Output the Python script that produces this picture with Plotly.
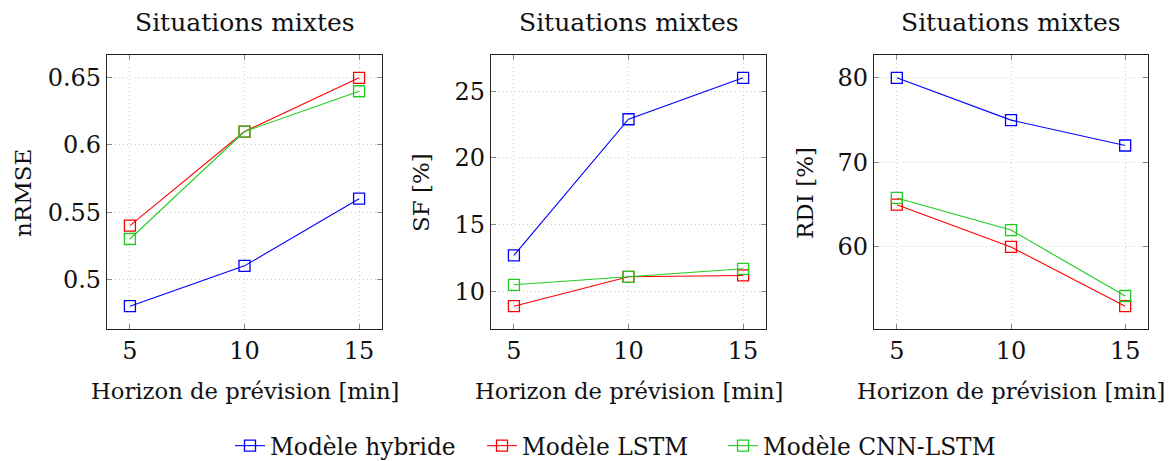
import plotly.graph_objects as go

horizons = [5, 10, 15]
series_names = ["Modèle hybride", "Modèle LSTM", "Modèle CNN-LSTM"]
colors = ["#0000ff", "#ff0000", "#22cc22"]

nrmse_hybride = [0.48, 0.51, 0.56]
nrmse_lstm = [0.54, 0.61, 0.65]
nrmse_cnn = [0.53, 0.61, 0.64]

sf_hybride = [12.7, 22.9, 26.0]
sf_lstm = [8.9, 11.1, 11.2]
sf_cnn = [10.5, 11.1, 11.7]

rdi_hybride = [80, 75, 72]
rdi_lstm = [65, 60, 53]
rdi_cnn = [65.8, 62, 54.2]

panel_titles = ["Situations mixtes", "Situations mixtes", "Situations mixtes"]
y_titles = ["nRMSE", "SF [%]", "RDI [%]"]
x_title = "Horizon de prévision [min]"

y_ticks = [[0.5, 0.55, 0.6, 0.65], [10, 15, 20, 25], [60, 70, 80]]
y_ticktext = [["0.5", "0.55", "0.6", "0.65"], ["10", "15", "20", "25"], ["60", "70", "80"]]

panels = [
    [nrmse_hybride, nrmse_lstm, nrmse_cnn],
    [sf_hybride, sf_lstm, sf_cnn],
    [rdi_hybride, rdi_lstm, rdi_cnn],
]

W, H = 1171, 461
FONT = "DejaVu Serif"
TXT = "#111111"


def px(x):
    return x / W


def py(y):
    return 1 - y / H


x_domains = [(107, 382), (491, 766), (874, 1148)]
y_top, y_bot = 55, 329
ytitle_x = [23, 421, 805]
legend_ids = ["legend", "legend2", "legend3"]
legend_x = [230, 482, 723]

fig = go.Figure()

for p, data in enumerate(panels):
    xa = "x" if p == 0 else f"x{p+1}"
    ya = "y" if p == 0 else f"y{p+1}"
    for s, vals in enumerate(data):
        fig.add_trace(go.Scatter(
            x=horizons, y=vals, mode="lines+markers",
            name=series_names[s], showlegend=(p == 0), legend=legend_ids[s],
            line=dict(color=colors[s], width=1.1),
            marker=dict(symbol="square-open", size=11, color=colors[s], line=dict(width=1.3)),
            xaxis=xa, yaxis=ya,
        ))
    lo = min(min(v) for v in data)
    hi = max(max(v) for v in data)
    pad = 0.1 * (hi - lo)
    axis_common = dict(
        showline=True, linecolor="#222222", linewidth=1.2, mirror="ticks",
        ticks="inside", ticklen=5, tickcolor="#888888", tickwidth=1,
        showgrid=True, gridcolor="#cfcfcf", griddash="1px,3px", gridwidth=1,
        zeroline=False, tickfont=dict(family=FONT, size=24, color=TXT),
    )
    x0, x1 = x_domains[p]
    fig.layout[f"xaxis{'' if p == 0 else p+1}"] = dict(
        domain=[px(x0), px(x1)], anchor=ya, range=[4, 16],
        tickvals=horizons, ticktext=[str(h) for h in horizons], **axis_common,
    )
    fig.layout[f"yaxis{'' if p == 0 else p+1}"] = dict(
        domain=[py(y_bot), py(y_top)], anchor=xa, range=[lo - pad, hi + pad],
        tickvals=y_ticks[p], ticktext=y_ticktext[p], **axis_common,
    )
    cx = px((x0 + x1) / 2)
    fig.add_annotation(text=panel_titles[p], x=cx, y=py(22), xref="paper", yref="paper",
                       xanchor="center", yanchor="middle",
                       showarrow=False, font=dict(family=FONT, size=25, color=TXT))
    fig.add_annotation(text=x_title, x=cx, y=py(391), xref="paper", yref="paper",
                       xanchor="center", yanchor="middle",
                       showarrow=False, font=dict(family=FONT, size=22.7, color=TXT))
    fig.add_annotation(text=y_titles[p], x=px(ytitle_x[p]), y=py(193), xref="paper", yref="paper",
                       xanchor="center", yanchor="middle",
                       showarrow=False, textangle=-90, font=dict(family=FONT, size=23, color=TXT))

fig.update_layout(
    width=W, height=H, margin=dict(l=0, r=0, t=0, b=0, autoexpand=False),
    paper_bgcolor="white", plot_bgcolor="white",
)
for lid, lx in zip(legend_ids, legend_x):
    fig.layout[lid] = dict(orientation="h", x=px(lx), xanchor="left", y=py(446), yanchor="middle",
                           font=dict(family=FONT, size=23.3, color=TXT), itemwidth=30,
                           bgcolor="rgba(0,0,0,0)")

fig.write_html("out.html", config={"displayModeBar": False},
               post_script="document.body.style.margin='0px';")
